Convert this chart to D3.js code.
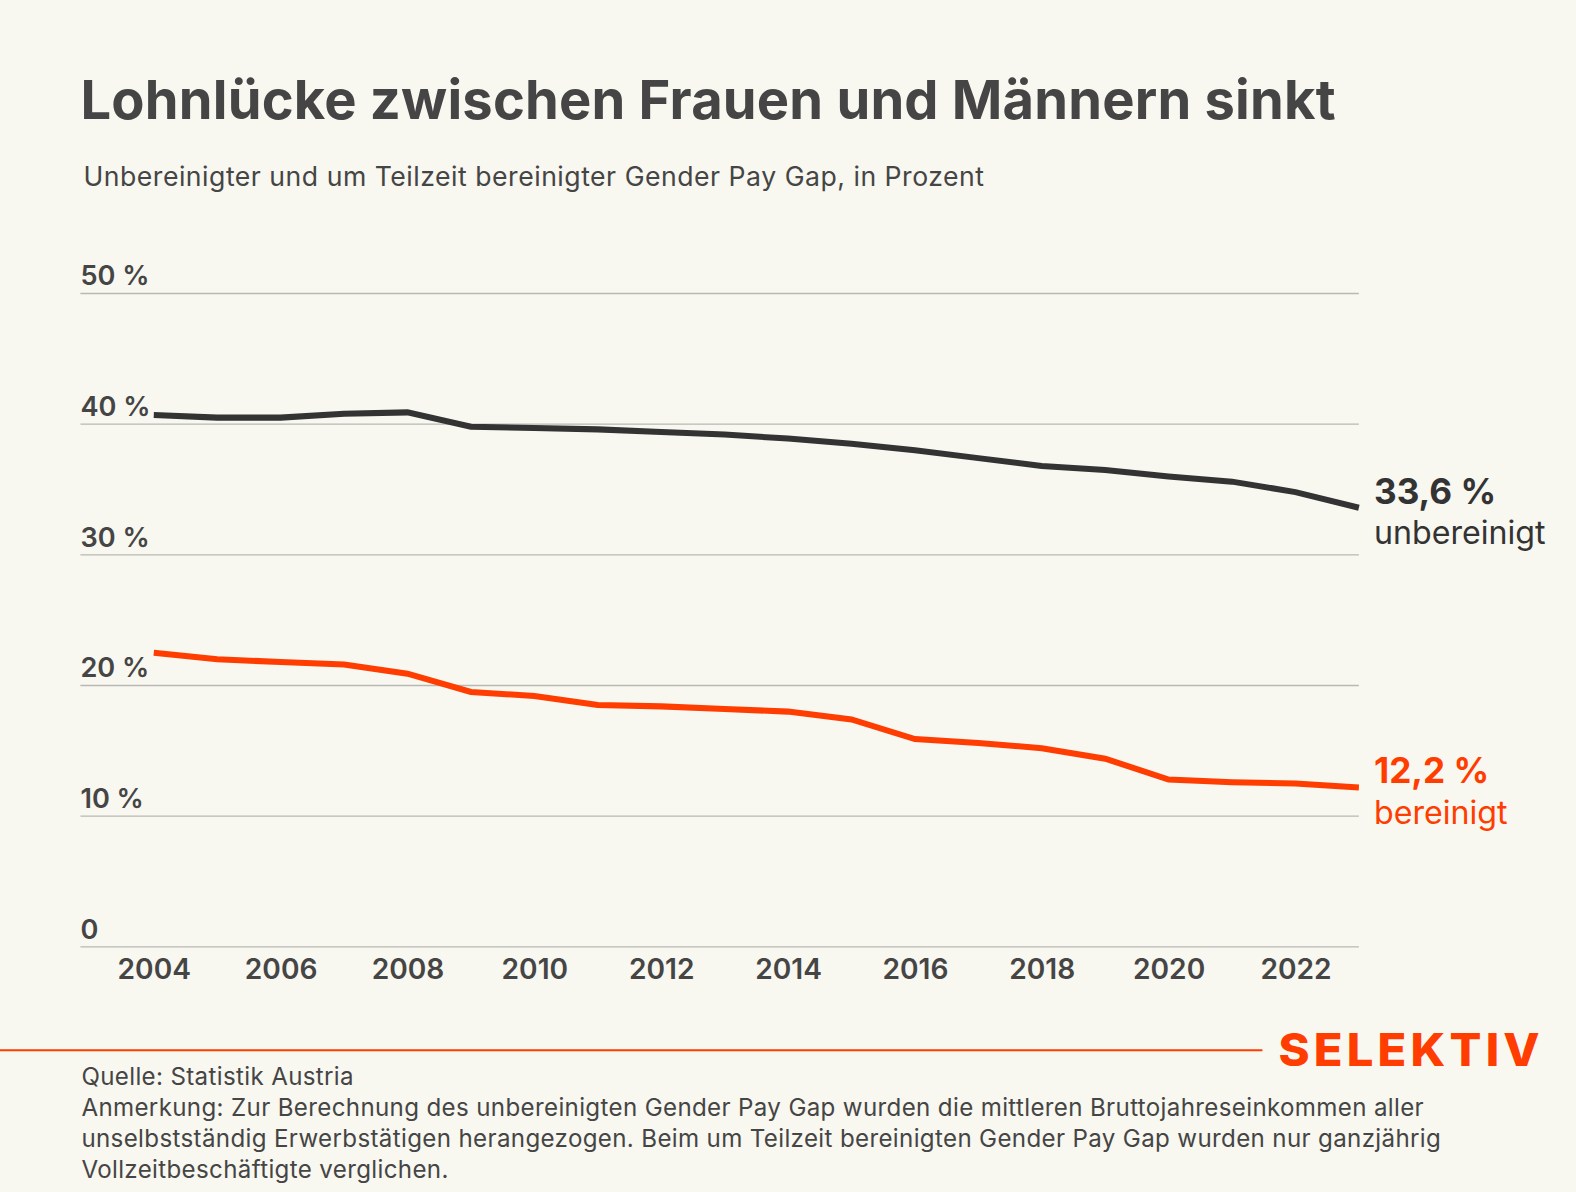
<!DOCTYPE html>
<html>
<head>
<meta charset="utf-8">
<script src="https://cdn.jsdelivr.net/npm/d3@7"></script>
<style>
  body { margin: 0; background: #f8f7f0; }
  svg { display: block; font-family: "Inter", "Noto Sans", sans-serif; }
</style>
</head>
<body>
<div id="chart"></div>
<script>
const years = d3.range(2004, 2024);
const unbereinigt = [40.7, 40.5, 40.5, 40.8, 40.9, 39.8, 39.7, 39.6, 39.4, 39.2, 38.9, 38.5, 38.0, 37.4, 36.8, 36.5, 36.0, 35.6, 34.8, 33.6];
const bereinigt = [22.5, 22.0, 21.8, 21.6, 20.9, 19.5, 19.2, 18.5, 18.4, 18.2, 18.0, 17.4, 15.9, 15.6, 15.2, 14.4, 12.8, 12.6, 12.5, 12.2];
const yTicks = [0, 10, 20, 30, 40, 50];
const xTicks = [2004, 2006, 2008, 2010, 2012, 2014, 2016, 2018, 2020, 2022];
const footer = [
  "Quelle: Statistik Austria",
  "Anmerkung: Zur Berechnung des unbereinigten Gender Pay Gap wurden die mittleren Bruttojahreseinkommen aller",
  "unselbstständig Erwerbstätigen herangezogen. Beim um Teilzeit bereinigten Gender Pay Gap wurden nur ganzjährig",
  "Vollzeitbeschäftigte verglichen."
];

const W = 1576, H = 1192;
const k = 1576 / 1568;
const dark = "#333333", text = "#454545", red = "#ff3d00";

const root = d3.select("#chart").append("svg")
  .attr("width", W).attr("height", H);

root.append("rect").attr("width", W).attr("height", H).attr("fill", "#f8f7f0");

const svg = root.append("g").attr("transform", `scale(${k})`);

// Title + subtitle
svg.append("text")
  .attr("x", 80).attr("y", 118)
  .attr("font-size", 54).attr("font-weight", 700).attr("fill", text)
  .attr("letter-spacing", 0.2)
  .text("Lohnlücke zwischen Frauen und Männern sinkt");

svg.append("text")
  .attr("x", 83).attr("y", 185)
  .attr("font-size", 26.5).attr("fill", text)
  .attr("letter-spacing", 0.5)
  .text("Unbereinigter und um Teilzeit bereinigter Gender Pay Gap, in Prozent");

const x = d3.scaleLinear().domain([2004, 2023]).range([153, 1352]);
const y = d3.scaleLinear().domain([0, 50]).range([942, 292]);

// Grid
const grid = svg.append("g");
grid.selectAll("line").data(yTicks).enter().append("line")
  .attr("x1", 80).attr("x2", 1352)
  .attr("y1", d => y(d)).attr("y2", d => y(d))
  .attr("stroke", "#b9b9b3").attr("stroke-width", 1.3);

grid.selectAll("text").data(yTicks).enter().append("text")
  .attr("x", 80).attr("y", d => y(d) - 8)
  .attr("font-size", 27).attr("font-weight", 600).attr("fill", text)
  .text(d => d === 0 ? "0" : d + " %");

// X axis
const xAxis = svg.append("g")
  .attr("transform", `translate(0,${y(0)})`)
  .call(d3.axisBottom(x).tickValues(xTicks).tickFormat(d3.format("d")).tickSize(0).tickPadding(12));
xAxis.select(".domain").remove();
xAxis.selectAll("text")
  .attr("font-family", "Inter, 'Noto Sans', sans-serif")
  .attr("font-size", 28).attr("font-weight", 600).attr("fill", text);

// Lines
const line = d3.line().x((d, i) => x(years[i])).y(d => y(d));

svg.append("path").datum(unbereinigt)
  .attr("fill", "none").attr("stroke", dark).attr("stroke-width", 6)
  .attr("d", line);

svg.append("path").datum(bereinigt)
  .attr("fill", "none").attr("stroke", red).attr("stroke-width", 6)
  .attr("d", line);

// End labels
const fmt = v => d3.format(".1f")(v).replace(".", ",") + " %";
const last = years.length - 1;

svg.append("text").attr("x", 1367).attr("y", y(unbereinigt[last]) - 4)
  .attr("font-size", 35).attr("font-weight", 700).attr("fill", dark)
  .text(fmt(unbereinigt[last]));
svg.append("text").attr("x", 1367).attr("y", y(unbereinigt[last]) + 36)
  .attr("font-size", 32).attr("fill", dark)
  .text("unbereinigt");

svg.append("text").attr("x", 1367).attr("y", y(bereinigt[last]) - 4)
  .attr("font-size", 35).attr("font-weight", 700).attr("fill", red)
  .text(fmt(bereinigt[last]));
svg.append("text").attr("x", 1367).attr("y", y(bereinigt[last]) + 36)
  .attr("font-size", 32).attr("fill", red)
  .text("bereinigt");

// Footer
svg.append("line")
  .attr("x1", 0).attr("x2", 1256).attr("y1", 1045).attr("y2", 1045)
  .attr("stroke", red).attr("stroke-width", 2);

svg.append("text")
  .attr("x", 1272).attr("y", 1061)
  .attr("font-size", 45).attr("font-weight", 800).attr("fill", red)
  .attr("letter-spacing", 4)
  .attr("textLength", 264).attr("lengthAdjust", "spacingAndGlyphs")
  .text("SELEKTIV");

svg.append("g").selectAll("text").data(footer).enter().append("text")
  .attr("x", 81).attr("y", (d, i) => 1079 + i * 31)
  .attr("font-size", 24).attr("fill", text)
  .attr("letter-spacing", 0.35)
  .text(d => d);
</script>
</body>
</html>
